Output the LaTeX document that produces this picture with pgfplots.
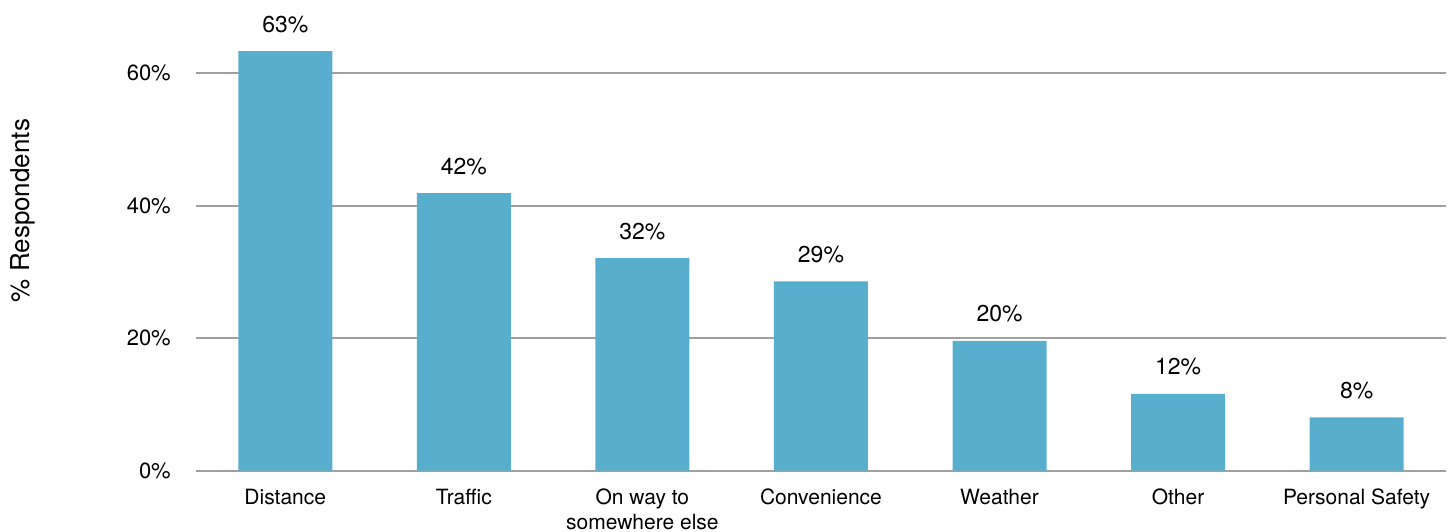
\documentclass[border=0pt]{standalone}
\usepackage{pgfplots}
\pgfplotsset{compat=1.18}
\usepackage{fontspec}
\setmainfont{TeX Gyre Heros}
\definecolor{barblue}{RGB}{88,175,205}
\definecolor{gridgray}{RGB}{160,160,160}
\begin{document}
\begin{tikzpicture}
\useasboundingbox (-196pt,-60.3pt) rectangle (1257pt,470.7pt);
\begin{axis}[
  scale only axis,
  width=1250pt, height=463.6pt,
  xmin=-0.5, xmax=6.5,
  ymin=0, ymax=70,
  axis lines*=left,
  axis line style={draw=none},
  clip=false,
  ytick={0,20,40,60},
  ymajorgrids,
  grid style={gridgray, line width=2pt},
  major tick length=0pt,
  xtick={0,1,2,3,4,5,6},
  xticklabels={Distance,Traffic,{On way to\\somewhere else},Convenience,Weather,Other,Personal Safety},
  xticklabel style={font=\fontsize{21}{25}\selectfont, align=center, anchor=north, inner sep=0pt, yshift=-18pt},
  yticklabel={\pgfmathprintnumber{\tick}\%},
  yticklabel style={font=\fontsize{22}{26}\selectfont, anchor=east, inner sep=0pt, xshift=-25pt},
  /pgf/number format/assume math mode=true,
  ylabel={\% Respondents},
  every axis y label/.style={at={(axis description cs:-0.1336,0.561)}, rotate=90, anchor=base, font=\fontsize{26}{30}\selectfont},
]
\addplot[ybar, bar width=94pt, fill=barblue, draw=none,
  nodes near coords={\pgfmathprintnumber[fixed,precision=0]{\pgfplotspointmeta}\%},
  every node near coord/.append style={anchor=base, yshift=19pt, font=\fontsize{23}{28}\selectfont, text=black, /pgf/number format/assume math mode=true}]
coordinates {(0,63.37) (1,41.9) (2,32.1) (3,28.6) (4,19.6) (5,11.6) (6,8.06)};
\end{axis}
\end{tikzpicture}
\end{document}
